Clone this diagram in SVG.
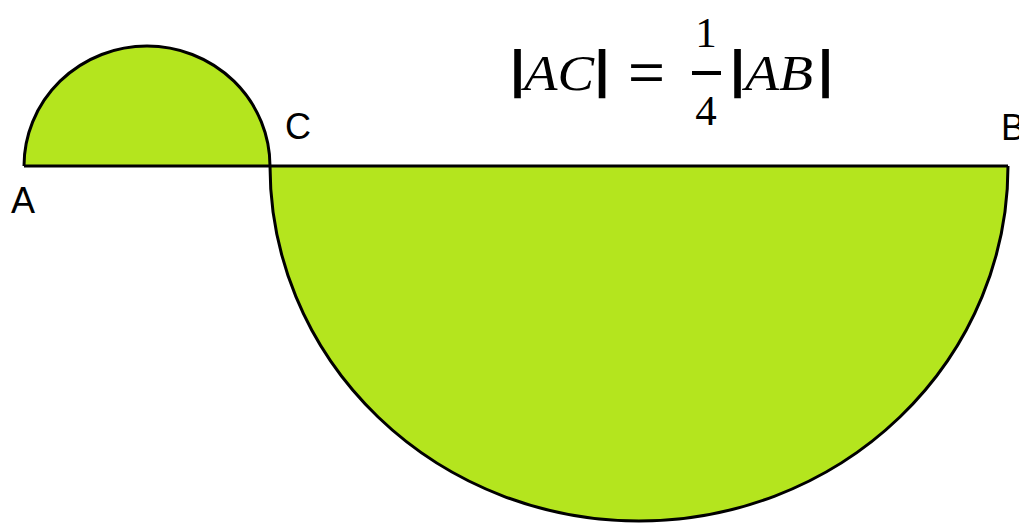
<svg xmlns="http://www.w3.org/2000/svg" width="1019" height="523" viewBox="0 0 1019 523">
<style>
.shape{fill:#b4e51e;stroke:#000;stroke-width:3}
.lbl{font-family:"Liberation Sans",Arial,sans-serif;font-size:36px;fill:#000}
.m{font-family:"Liberation Serif","Times New Roman",serif;font-size:50px;fill:#000}
.mi{font-style:italic}
.bar{font-family:"Liberation Sans",Arial,sans-serif;font-weight:bold;font-size:52px;fill:#000;text-anchor:middle}
.dg{font-family:"Liberation Serif","Times New Roman",serif;font-size:43px;fill:#000;text-anchor:middle}
</style>
<rect width="1019" height="523" fill="#fff"/>
<g id="big-half">
<path class="shape" d="M270,166 A369,355 0 0 0 1008,166"/>
</g>
<g id="small-half">
<path class="shape" d="M24,166 A123,120 0 0 1 270,166"/>
</g>
<g id="connectors">
<line x1="24" y1="166" x2="1008" y2="166" stroke="#000" stroke-width="3"/>
</g>
<g id="labels">
<text class="lbl" x="11" y="213">A</text>
<text class="lbl" x="285" y="139">C</text>
<text class="lbl" x="1001" y="140">B</text>
</g>
<g id="formula">
<text class="bar" x="517.5" y="87">|</text>
<text class="m mi" x="524" y="90" textLength="70" lengthAdjust="spacingAndGlyphs">AC</text>
<text class="bar" x="602" y="87">|</text>
<text style="font-family:'Liberation Sans',Arial,sans-serif;font-size:52px" x="628" y="90" textLength="37" lengthAdjust="spacingAndGlyphs">=</text>
<text class="dg" x="706" y="47">1</text>
<line x1="692" y1="73" x2="721" y2="73" stroke="#000" stroke-width="4"/>
<text class="dg" x="706" y="125">4</text>
<text class="bar" x="737.5" y="87">|</text>
<text class="m mi" x="745" y="90" textLength="68" lengthAdjust="spacingAndGlyphs">AB</text>
<text class="bar" x="825.5" y="87">|</text>
</g>
</svg>
